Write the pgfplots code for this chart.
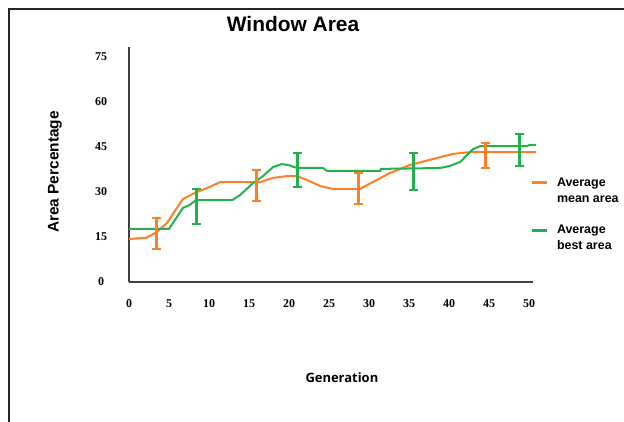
\documentclass[border=0pt]{standalone}
\usepackage{fontspec}
\setmainfont{Liberation Serif}
\newfontfamily\arialf{Liberation Sans}
\newfontfamily\osans{Open Sans}
\usepackage{pgfplots}
\pgfplotsset{compat=1.18}
\definecolor{porange}{RGB}{255,127,39}
\definecolor{pgreen}{RGB}{34,177,76}
\definecolor{axgray}{RGB}{64,64,64}
\begin{document}
\begin{tikzpicture}
\useasboundingbox (0,0) rectangle (624bp,422bp);
\draw[line width=1.6bp, black!85] (9bp,0bp) -- (9bp,413bp) -- (624bp,413bp);
\begin{axis}[
  at={(129bp,140bp)}, anchor=south west,
  scale only axis, width=404bp, height=235bp,
  xmin=0, xmax=50.5, ymin=0, ymax=78.33,
  axis x line*=bottom, axis y line*=left,
  axis line style={-, line width=1.5bp, axgray},
  xtick={0,5,...,50}, ytick={0,15,...,75},
  major tick length=0pt, tick style={draw=none},
  /pgf/number format/assume math mode=true,
  ticklabel style={font=\bfseries\fontsize{12}{12}\selectfont},
  xticklabel style={anchor=center, yshift=-22bp},
  yticklabel style={anchor=center, xshift=-28bp},
  title={Window Area},
  title style={at={(axis description cs:0.406,1.072)}, anchor=center, font=\arialf\bfseries\fontsize{21}{24}\selectfont},
  xlabel={Generation},
  xlabel style={at={(axis description cs:0.527,-0.409)}, anchor=center, font=\osans\bfseries\fontsize{13}{15}\selectfont},
  ylabel={Area Percentage},
  ylabel style={at={(axis description cs:-0.183,0.468)}, anchor=center, font=\arialf\bfseries\fontsize{15.5}{17}\selectfont},
  clip=false,
  legend image code/.code={\draw[#1, line width=3bp] (0bp,0.33em) -- (15bp,0.33em);},
  legend style={draw=none, fill=none, inner sep=0pt, outer sep=0pt,
    at={(axis description cs:0.9926,0.455)}, anchor=north west,
    cells={anchor=base west}, nodes={inner sep=0pt},
    column sep=9bp, row sep=35bp,
    font=\arialf\bfseries\fontsize{12.5}{16}\selectfont},
]
\addplot[porange, line width=2bp] coordinates {
(0,14.3) (2.2,14.8) (3.4,16.5) (4.75,19.7) (6,24.7) (6.75,27.7) (8.5,30) (9.75,31.3)
(11.4,33.3) (16.4,33.3) (18,34.7) (19.75,35.3) (21,35.3) (22.25,34) (23.9,32) (25.5,31)
(28.9,31) (29.75,32.3) (32.6,36.3) (35.1,39) (38,41) (40.5,42.7) (42.6,43.3) (50.9,43.3)};
\addlegendentry{\begin{tabular}[t]{@{}l@{}}Average\\mean area\end{tabular}}
\addplot[pgreen, line width=2bp] coordinates {
(0,17.7) (5,17.7) (6,21.7) (6.75,24.7) (7.6,25.7) (8.4,27.3) (12.9,27.3) (13.9,29)
(15.5,33) (16.75,35.3) (18,38.3) (19.1,39.3) (19.9,39) (21,38) (24.25,38) (24.75,37)
(31.4,37) (31.5,37.7) (38.9,38) (40.1,38.7) (41.4,40) (42.4,42.7) (43,44.3) (43.9,45.3)
(49.75,45.3) (50.1,45.7) (50.9,45.7)};
\addlegendentry{\begin{tabular}[t]{@{}l@{}}Average\\best area\end{tabular}}
\addplot[forget plot, draw=none, mark=none,
  error bars/.cd, y dir=both, y explicit,
  error bar style={draw=porange, line width=3bp},
  error mark options={draw=porange, line width=2.5bp, mark size=4.5bp, rotate=90}]
coordinates {
(3.4,16.15) +- (0,5.15)
(15.9,32.15) +- (0,5.15)
(28.7,31.15) +- (0,5.15)
(44.5,42.15) +- (0,4.15)};
\addplot[forget plot, draw=none, mark=none,
  error bars/.cd, y dir=both, y explicit,
  error bar style={draw=pgreen, line width=3bp},
  error mark options={draw=pgreen, line width=2.5bp, mark size=4.5bp, rotate=90}]
coordinates {
(8.4,25.15) +- (0,5.85)
(21.1,37.35) +- (0,5.65)
(35.6,36.85) +- (0,6.15)
(48.75,44) +- (0,5.3)};
\end{axis}
\end{tikzpicture}
\end{document}
